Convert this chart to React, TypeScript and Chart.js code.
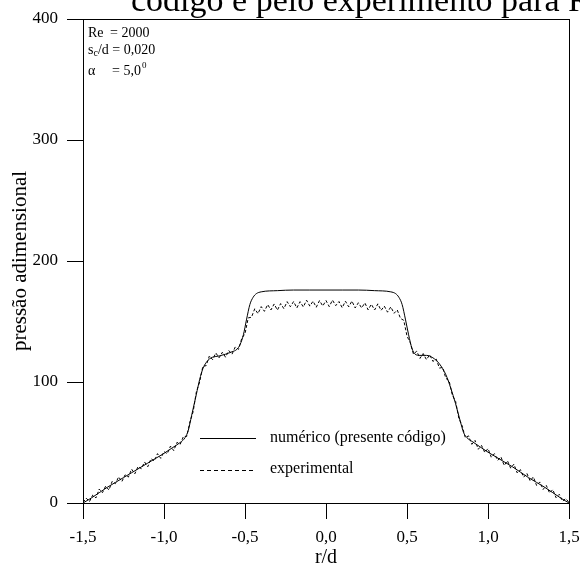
import React, { useEffect, useRef } from "react";
import { Chart, registerables } from "chart.js";

Chart.register(...registerables);

// numerical (present code) curve
const numR = [
  -1.5, -1.45, -1.4, -1.35, -1.3, -1.25, -1.2, -1.15, -1.1, -1.05, -1.0, -0.95, -0.9, -0.87, -0.85, -0.83,
  -0.8, -0.78, -0.76, -0.74, -0.72, -0.7, -0.66, -0.62, -0.58, -0.55, -0.53, -0.51, -0.49, -0.47, -0.45,
  -0.43, -0.4, -0.3, -0.2, -0.1, 0.0, 0.1, 0.2, 0.3, 0.4, 0.43, 0.45, 0.47, 0.49, 0.51, 0.53, 0.55, 0.58,
  0.62, 0.66, 0.7, 0.74, 0.77, 0.8, 0.83, 0.85, 0.87, 0.9, 0.95, 1.0, 1.05, 1.1, 1.15, 1.2, 1.25, 1.3,
  1.35, 1.4, 1.45, 1.5,
];
const numP = [
  0, 4, 8.5, 13, 17, 21, 25, 29, 33, 37, 41, 45.5, 50, 54, 60, 72,
  90, 102, 111, 116, 119, 120.5, 121.5, 123, 125, 127, 131, 139, 152, 164, 170,
  173, 174.5, 175.5, 176, 176, 176, 176, 176, 175.5, 174.5, 173, 170, 164, 152, 139, 128, 123, 122,
  122, 120, 115, 106, 95, 82, 67, 58, 54, 51, 46.5, 42, 38, 34, 30, 25.5, 21, 17,
  13, 8.5, 4, 0,
];

// experimental curve
const expR = [
  -1.5, -1.48, -1.46, -1.44, -1.42, -1.4, -1.38, -1.36, -1.34, -1.32, -1.3, -1.28, -1.26, -1.24, -1.22, -1.2,
  -1.18, -1.16, -1.14, -1.12, -1.1, -1.08, -1.06, -1.04, -1.02, -1.0, -0.98, -0.96, -0.94, -0.92, -0.9,
  -0.88, -0.86, -0.84, -0.82, -0.8, -0.78, -0.76, -0.74, -0.72, -0.7, -0.68, -0.66, -0.64, -0.62, -0.6,
  -0.58, -0.56, -0.54, -0.52, -0.5, -0.48, -0.46, -0.44, -0.42, -0.4, -0.38, -0.36, -0.34, -0.32, -0.3,
  -0.28, -0.26, -0.24, -0.22, -0.2, -0.18, -0.16, -0.14, -0.12, -0.1, -0.08, -0.06, -0.04, -0.02, 0.0,
  0.02, 0.04, 0.06, 0.08, 0.1, 0.12, 0.14, 0.16, 0.18, 0.2, 0.22, 0.24, 0.26, 0.28, 0.3,
  0.32, 0.34, 0.36, 0.38, 0.4, 0.42, 0.44, 0.46, 0.48, 0.5, 0.52, 0.54, 0.56, 0.58, 0.6,
  0.62, 0.64, 0.66, 0.68, 0.7, 0.72, 0.74, 0.76, 0.78, 0.8, 0.82, 0.84, 0.86, 0.88, 0.9,
  0.92, 0.94, 0.96, 0.98, 1.0, 1.02, 1.04, 1.06, 1.08, 1.1, 1.12, 1.14, 1.16, 1.18, 1.2,
  1.22, 1.24, 1.26, 1.28, 1.3, 1.32, 1.34, 1.36, 1.38, 1.4, 1.42, 1.44, 1.46, 1.48, 1.5,
];
const expP = [
  0.5, 4, 1.2, 6.5, 4.2, 11.5, 8.5, 14, 10.7, 17.9, 16, 21.6, 17.7, 23.3, 21.4, 28,
  24.1, 30.2, 28.3, 33.9, 30, 36.6, 34.7, 40.8, 36.9, 42.5, 40.7, 47, 43.3, 50.1, 48.5,
  55, 55, 67, 75.5, 92, 100, 113, 113.5, 121.5, 118.5, 124, 120, 124.5, 120.5, 126,
  123, 129, 127, 136, 140, 153, 153.5, 160.5, 156.5, 162.3, 158.4, 164, 159.5, 164.5, 159.4,
  164.8, 160.6, 166.4, 162.2, 166.5, 161.2, 166.4, 162, 167.6, 162.7, 166.8, 161.8, 167.3, 162.8, 167.3,
  162.3, 167.7, 163.1, 166.5, 161.4, 166.8, 162.1, 166.9, 161.2, 165.5, 161.2, 165.4, 159.6, 164.3, 159.5,
  164.6, 159.2, 162.7, 157.7, 162.1, 156.8, 159.5, 152.5, 151, 138, 132.5, 123, 125.5, 119.5, 123.5,
  118.5, 122.5, 117, 119, 111.5, 112, 103, 101, 89, 84, 70, 64, 54, 55.5, 48.5,
  51.7, 44.4, 47.6, 41.8, 45, 37.9, 40.8, 35.2, 38.1, 31, 34.9, 28.8, 32.1, 24.9, 27.6,
  21.3, 24.5, 18.3, 21.6, 14.5, 17.4, 11.2, 14.5, 8.3, 11.1, 4.4, 7.2, 1.5, 3.7, 0.5,
];

const xTicks = [-1.5, -1.0, -0.5, 0.0, 0.5, 1.0, 1.5];
const yTicks = [0, 100, 200, 300, 400];

const titleText = "código e pelo experimento para Re";
const seriesLabels = ["numérico (presente código)", "experimental"];
const xTitle = "r/d";
const yTitle = "pressão adimensional";

const SERIF = "'Liberation Serif', 'DejaVu Serif', serif";

const textPlugin = {
  id: "textPlugin",
  afterDraw(chart: any) {
    const ctx = chart.ctx as CanvasRenderingContext2D;
    const a = chart.chartArea;
    ctx.save();
    // frame
    ctx.strokeStyle = "#000";
    ctx.lineWidth = 1;
    ctx.strokeRect(Math.round(a.left) + 0.5, Math.round(a.top) + 0.5, Math.round(a.right - a.left), Math.round(a.bottom - a.top));

    // clipped title
    ctx.fillStyle = "#000";
    ctx.font = `34px ${SERIF}`;
    ctx.textBaseline = "alphabetic";
    ctx.textAlign = "left";
    ctx.fillText(titleText, 131, 11);

    // parameter annotations
    ctx.font = `14px ${SERIF}`;
    ctx.textBaseline = "middle";
    ctx.fillText("Re", 88, 33);
    ctx.fillText("= 2000", 110, 33);
    ctx.fillText("s", 88, 50);
    let w = ctx.measureText("s").width;
    ctx.font = `10px ${SERIF}`;
    ctx.fillText("c", 88 + w, 53);
    const wc = ctx.measureText("c").width;
    ctx.font = `14px ${SERIF}`;
    ctx.fillText("/d = 0,020", 88 + w + wc, 50);
    ctx.fillText("α", 88, 71);
    ctx.fillText("= 5,0", 112, 71);
    w = ctx.measureText("= 5,0").width;
    ctx.font = `9px ${SERIF}`;
    ctx.fillText("0", 112 + w + 1, 66);

    // legend
    ctx.font = `16px ${SERIF}`;
    ctx.beginPath();
    ctx.moveTo(200, 438.5);
    ctx.lineTo(256, 438.5);
    ctx.stroke();
    ctx.fillText(seriesLabels[0], 270, 438);
    ctx.setLineDash([4, 3]);
    ctx.beginPath();
    ctx.moveTo(200, 470.5);
    ctx.lineTo(256, 470.5);
    ctx.stroke();
    ctx.setLineDash([]);
    ctx.fillText(seriesLabels[1], 270, 469);
    ctx.restore();
  },
};

export default function App() {
  const ref = useRef<HTMLCanvasElement | null>(null);

  useEffect(() => {
    if (!ref.current) return;
    const fmt = (v: any) => Number(v).toFixed(1).replace("-0.0", "0.0").replace(".", ",");
    const chart = new Chart(ref.current, {
      type: "scatter",
      data: {
        datasets: [
          {
            label: seriesLabels[0],
            data: numR.map((r, i) => ({ x: r, y: numP[i] })),
            showLine: true,
            borderColor: "#000",
            borderWidth: 1,
            pointRadius: 0,
            cubicInterpolationMode: "monotone",
          },
          {
            label: seriesLabels[1],
            data: expR.map((r, i) => ({ x: r, y: expP[i] })),
            showLine: true,
            borderColor: "#000",
            borderWidth: 1,
            borderDash: [3, 2],
            pointRadius: 0,
            tension: 0,
          },
        ],
      },
      options: {
        responsive: false,
        animation: false,
        devicePixelRatio: 1,
        layout: { padding: { top: 19, right: 11, left: 0, bottom: 0 } },
        plugins: { legend: { display: false }, tooltip: { enabled: false }, title: { display: false } },
        scales: {
          x: {
            type: "linear",
            min: -1.5,
            max: 1.5,
            afterBuildTicks: (s: any) => {
              s.ticks = xTicks.map((v) => ({ value: v }));
            },
            afterFit: (s: any) => {
              s.height = 67;
              s.paddingLeft = 0;
              s.paddingRight = 0;
            },
            ticks: {
              callback: (v: any) => fmt(v),
              color: "#000",
              font: { family: SERIF, size: 17 },
              padding: 8,
              maxRotation: 0,
              autoSkip: false,
            },
            grid: { drawOnChartArea: false, drawTicks: true, tickLength: 16, color: "#000" },
            border: { display: true, color: "#000", width: 1 },
            title: {
              display: true,
              text: xTitle,
              color: "#000",
              font: { family: SERIF, size: 20 },
              padding: { top: 0, bottom: 0 },
            },
          },
          y: {
            type: "linear",
            min: 0,
            max: 400,
            afterBuildTicks: (s: any) => {
              s.ticks = yTicks.map((v) => ({ value: v }));
            },
            afterFit: (s: any) => {
              s.width = 83;
              s.paddingTop = 0;
              s.paddingBottom = 0;
            },
            ticks: {
              color: "#000",
              font: { family: SERIF, size: 17 },
              padding: 9,
            },
            grid: { drawOnChartArea: false, drawTicks: true, tickLength: 16, color: "#000" },
            border: { display: true, color: "#000", width: 1 },
            title: {
              display: true,
              text: yTitle,
              color: "#000",
              font: { family: SERIF, size: 21 },
              padding: { top: 8, bottom: 0 },
            },
          },
        },
      },
      plugins: [textPlugin],
    } as any);
    return () => chart.destroy();
  }, []);

  return (
    <div style={{ position: "absolute", left: 0, top: 0, width: 580, height: 570, background: "#fff" }}>
      <canvas ref={ref} width={580} height={570} style={{ width: 580, height: 570, display: "block" }} />
    </div>
  );
}
